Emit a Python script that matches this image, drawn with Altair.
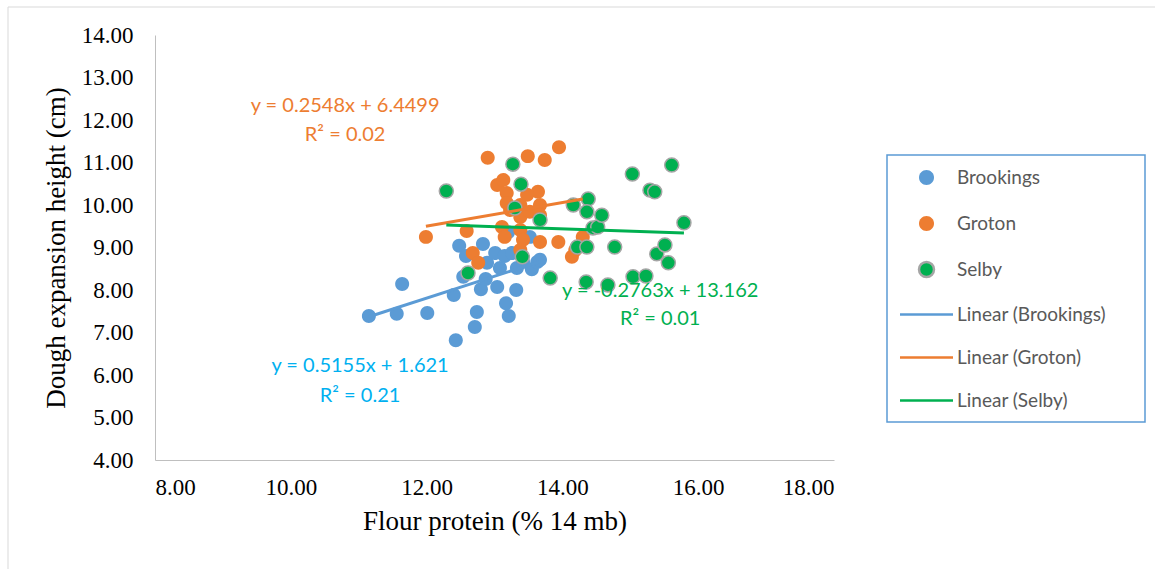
import altair as alt
import pandas as pd

# ---------------- data ----------------
series_names = ["Brookings", "Groton", "Selby"]
trend_names = ["Linear (Brookings)", "Linear (Groton)", "Linear (Selby)"]

brookings_x = [11.15, 11.56, 11.64, 12.01, 12.40, 12.43, 12.48, 12.54, 12.58, 12.71,
               12.74, 12.80, 12.83, 12.87, 12.89, 13.01, 13.04, 13.08, 13.15, 13.17,
               13.21, 13.26, 13.32, 13.33, 13.42, 13.52, 13.55, 13.63, 13.67, 13.20]
brookings_y = [7.39, 7.44, 8.14, 7.46, 7.88, 6.82, 9.04, 8.31, 8.80, 7.13,
               7.48, 8.02, 9.08, 8.26, 8.64, 8.87, 8.07, 8.52, 8.80, 7.69,
               7.39, 8.87, 8.00, 8.52, 8.66, 9.25, 8.49, 8.66, 8.71, 9.36]

groton_x = [11.99, 12.59, 12.68, 12.76, 12.90, 13.04, 13.13, 13.18, 13.18, 13.23,
            13.38, 13.38, 13.11, 13.15, 13.38, 13.42, 13.38, 13.49, 13.52, 13.64,
            13.67, 13.67, 13.74, 13.95, 13.67, 13.94, 14.19, 14.30, 14.14, 13.48]
groton_y = [9.25, 9.39, 8.87, 8.64, 11.11, 10.47, 10.59, 10.28, 10.05, 9.88,
            10.00, 9.72, 9.48, 9.25, 9.41, 9.18, 8.94, 11.15, 9.84, 10.31,
            10.00, 9.76, 11.06, 11.36, 9.13, 9.13, 8.94, 9.25, 8.78, 10.24]

selby_x = [12.29, 12.61, 13.27, 13.39, 13.30, 13.41, 13.67, 13.82, 14.16, 14.22,
           14.35, 14.36, 14.38, 14.36, 14.45, 14.52, 14.58, 14.67, 14.77, 15.03,
           15.04, 15.23, 15.29, 15.36, 15.39, 15.51, 15.56, 15.61, 15.79]
selby_y = [10.33, 8.40, 10.96, 10.49, 9.93, 8.78, 9.65, 8.28, 10.00, 9.01,
           8.19, 9.01, 10.14, 9.84, 9.46, 9.48, 9.76, 8.12, 9.01, 10.73,
           8.31, 8.33, 10.35, 10.31, 8.85, 9.06, 8.64, 10.94, 9.58]

trend_x_start = [11.15, 11.99, 12.29]
trend_x_end = [13.67, 14.30, 15.79]
trend_y_start = [7.37, 9.50, 9.53]
trend_y_end = [8.67, 10.14, 9.34]

eq_text = ["y = 0.5155x + 1.621", "y = 0.2548x + 6.4499", "y = -0.2763x + 13.162"]
r2_text = ["R² = 0.21", "R² = 0.02", "R² = 0.01"]
eq_x = [11.02, 10.80, 15.44]
eq_y = [6.21, 12.33, 7.98]
r2_y = [5.51, 11.65, 7.32]
text_colors = ["#00B0F0", "#ED7D31", "#00B050"]

x_ticks = [8, 10, 12, 14, 16, 18]
y_ticks = [4, 5, 6, 7, 8, 9, 10, 11, 12, 13, 14]

# ---------------- tables ----------------
pts = pd.DataFrame(
    [{"series": "Brookings", "x": a, "y": b} for a, b in zip(brookings_x, brookings_y)]
    + [{"series": "Groton", "x": a, "y": b} for a, b in zip(groton_x, groton_y)]
    + [{"series": "Selby", "x": a, "y": b} for a, b in zip(selby_x, selby_y)]
)
trend_rows = []
for n, x0, x1, y0, y1 in zip(trend_names, trend_x_start, trend_x_end, trend_y_start, trend_y_end):
    trend_rows.append({"series": n, "x": x0, "y": y0})
    trend_rows.append({"series": n, "x": x1, "y": y1})
trend = pd.DataFrame(trend_rows)

labels = pd.DataFrame(
    [{"t": t, "x": x, "y": y, "c": c} for t, x, y, c in zip(eq_text, eq_x, eq_y, text_colors)]
    + [{"t": t, "x": x, "y": y, "c": c} for t, x, y, c in zip(r2_text, eq_x, r2_y, text_colors)]
)

# ---------------- styling ----------------
W, H = 679, 425
serif = "Liberation Serif"
sans = "Lato"

domain = series_names + trend_names
circle = "M-0.75,0A0.75,0.75,0,1,0,0.75,0A0.75,0.75,0,1,0,-0.75,0Z"
seg = "M-2.65,0H2.65"
fill_range = ["#5B9BD5", "#ED7D31", "#00B050", "transparent", "transparent", "transparent"]
stroke_range = ["transparent", "transparent", "#A5A5A5", "#5B9BD5", "#ED7D31", "#00B050"]
shape_range = [circle] * 3 + [seg] * 3

xscale = alt.Scale(domain=[8, 18], nice=False, zero=False)
yscale = alt.Scale(domain=[4, 14], nice=False, zero=False)

xaxis = alt.Axis(values=x_ticks, format=".2f", grid=False, ticks=False, tickSize=0,
                 domainColor="#BFBFBF", domainWidth=1, labelFont=serif, labelFontSize=23,
                 labelColor="#000000", labelPadding=16, title="Flour protein (% 14 mb)",
                 titleFont=serif, titleFontSize=27, titleFontWeight="normal",
                 titleColor="#000000", titlePadding=9)
yaxis = alt.Axis(values=y_ticks, format=".2f", grid=False, ticks=False, tickSize=0,
                 domainColor="#BFBFBF", domainWidth=1, labelFont=serif, labelFontSize=23,
                 labelColor="#000000", labelPadding=22, title="Dough expansion height (cm)",
                 titleFont=serif, titleFontSize=27, titleFontWeight="normal",
                 titleColor="#000000", titlePadding=11)

# invisible blank glyphs appended to labels widen the legend box to the reference's width
pad_chars = "\u2800" * 2
legend = alt.Legend(title=None, orient="none", legendX=732, legendY=120,
                    strokeColor="#5B9BD5", padding=11, symbolOffset=17,
                    labelFont=sans, labelFontSize=19, labelColor="#595959",
                    labelOffset=19, rowPadding=21, symbolSize=400,
                    symbolStrokeWidth=2.5, symbolOpacity=1, labelLimit=600,
                    labelExpr="datum.label + '" + pad_chars + "'")

fill_enc = alt.Fill("series:N", scale=alt.Scale(domain=domain, range=fill_range), legend=legend)
stroke_enc = alt.Stroke("series:N", scale=alt.Scale(domain=domain, range=stroke_range), legend=legend)
shape_enc = alt.Shape("series:N", scale=alt.Scale(domain=domain, range=shape_range), legend=legend)

one = pd.DataFrame({"k": [0]})
frame_top = alt.Chart(one).mark_rule(stroke="#D9D9D9", strokeWidth=1).encode(
    x=alt.value(-147), x2=alt.value(1000), y=alt.value(-28))
frame_left = alt.Chart(one).mark_rule(stroke="#D9D9D9", strokeWidth=1).encode(
    x=alt.value(-147), y=alt.value(-28), y2=alt.value(534))

points = alt.Chart(pts).mark_point(filled=True, size=348, strokeWidth=1.5, opacity=1).encode(
    x=alt.X("x:Q", scale=xscale, axis=xaxis),
    y=alt.Y("y:Q", scale=yscale, axis=yaxis),
    fill=fill_enc, stroke=stroke_enc, shape=shape_enc,
)

lines = alt.Chart(trend).mark_line(strokeWidth=3).encode(
    x=alt.X("x:Q", scale=xscale),
    y=alt.Y("y:Q", scale=yscale),
    stroke=stroke_enc,
)

texts = alt.Chart(labels).mark_text(font=sans, fontSize=20, align="center", baseline="middle").encode(
    x=alt.X("x:Q", scale=xscale),
    y=alt.Y("y:Q", scale=yscale),
    text="t:N",
    color=alt.Color("c:N", scale=None),
)

chart = alt.layer(frame_top, frame_left, points, lines, texts).properties(
    width=W, height=H,
    autosize=alt.AutoSizeParams(type="none"),
    padding={"left": 155, "top": 35, "right": 321, "bottom": 109},
    background="#FFFFFF",
).configure_view(stroke=None).configure_legend(strokeColor="#5B9BD5", strokeWidth=1.5)

chart.save("out.html", embed_options={"renderer": "svg", "actions": False})
